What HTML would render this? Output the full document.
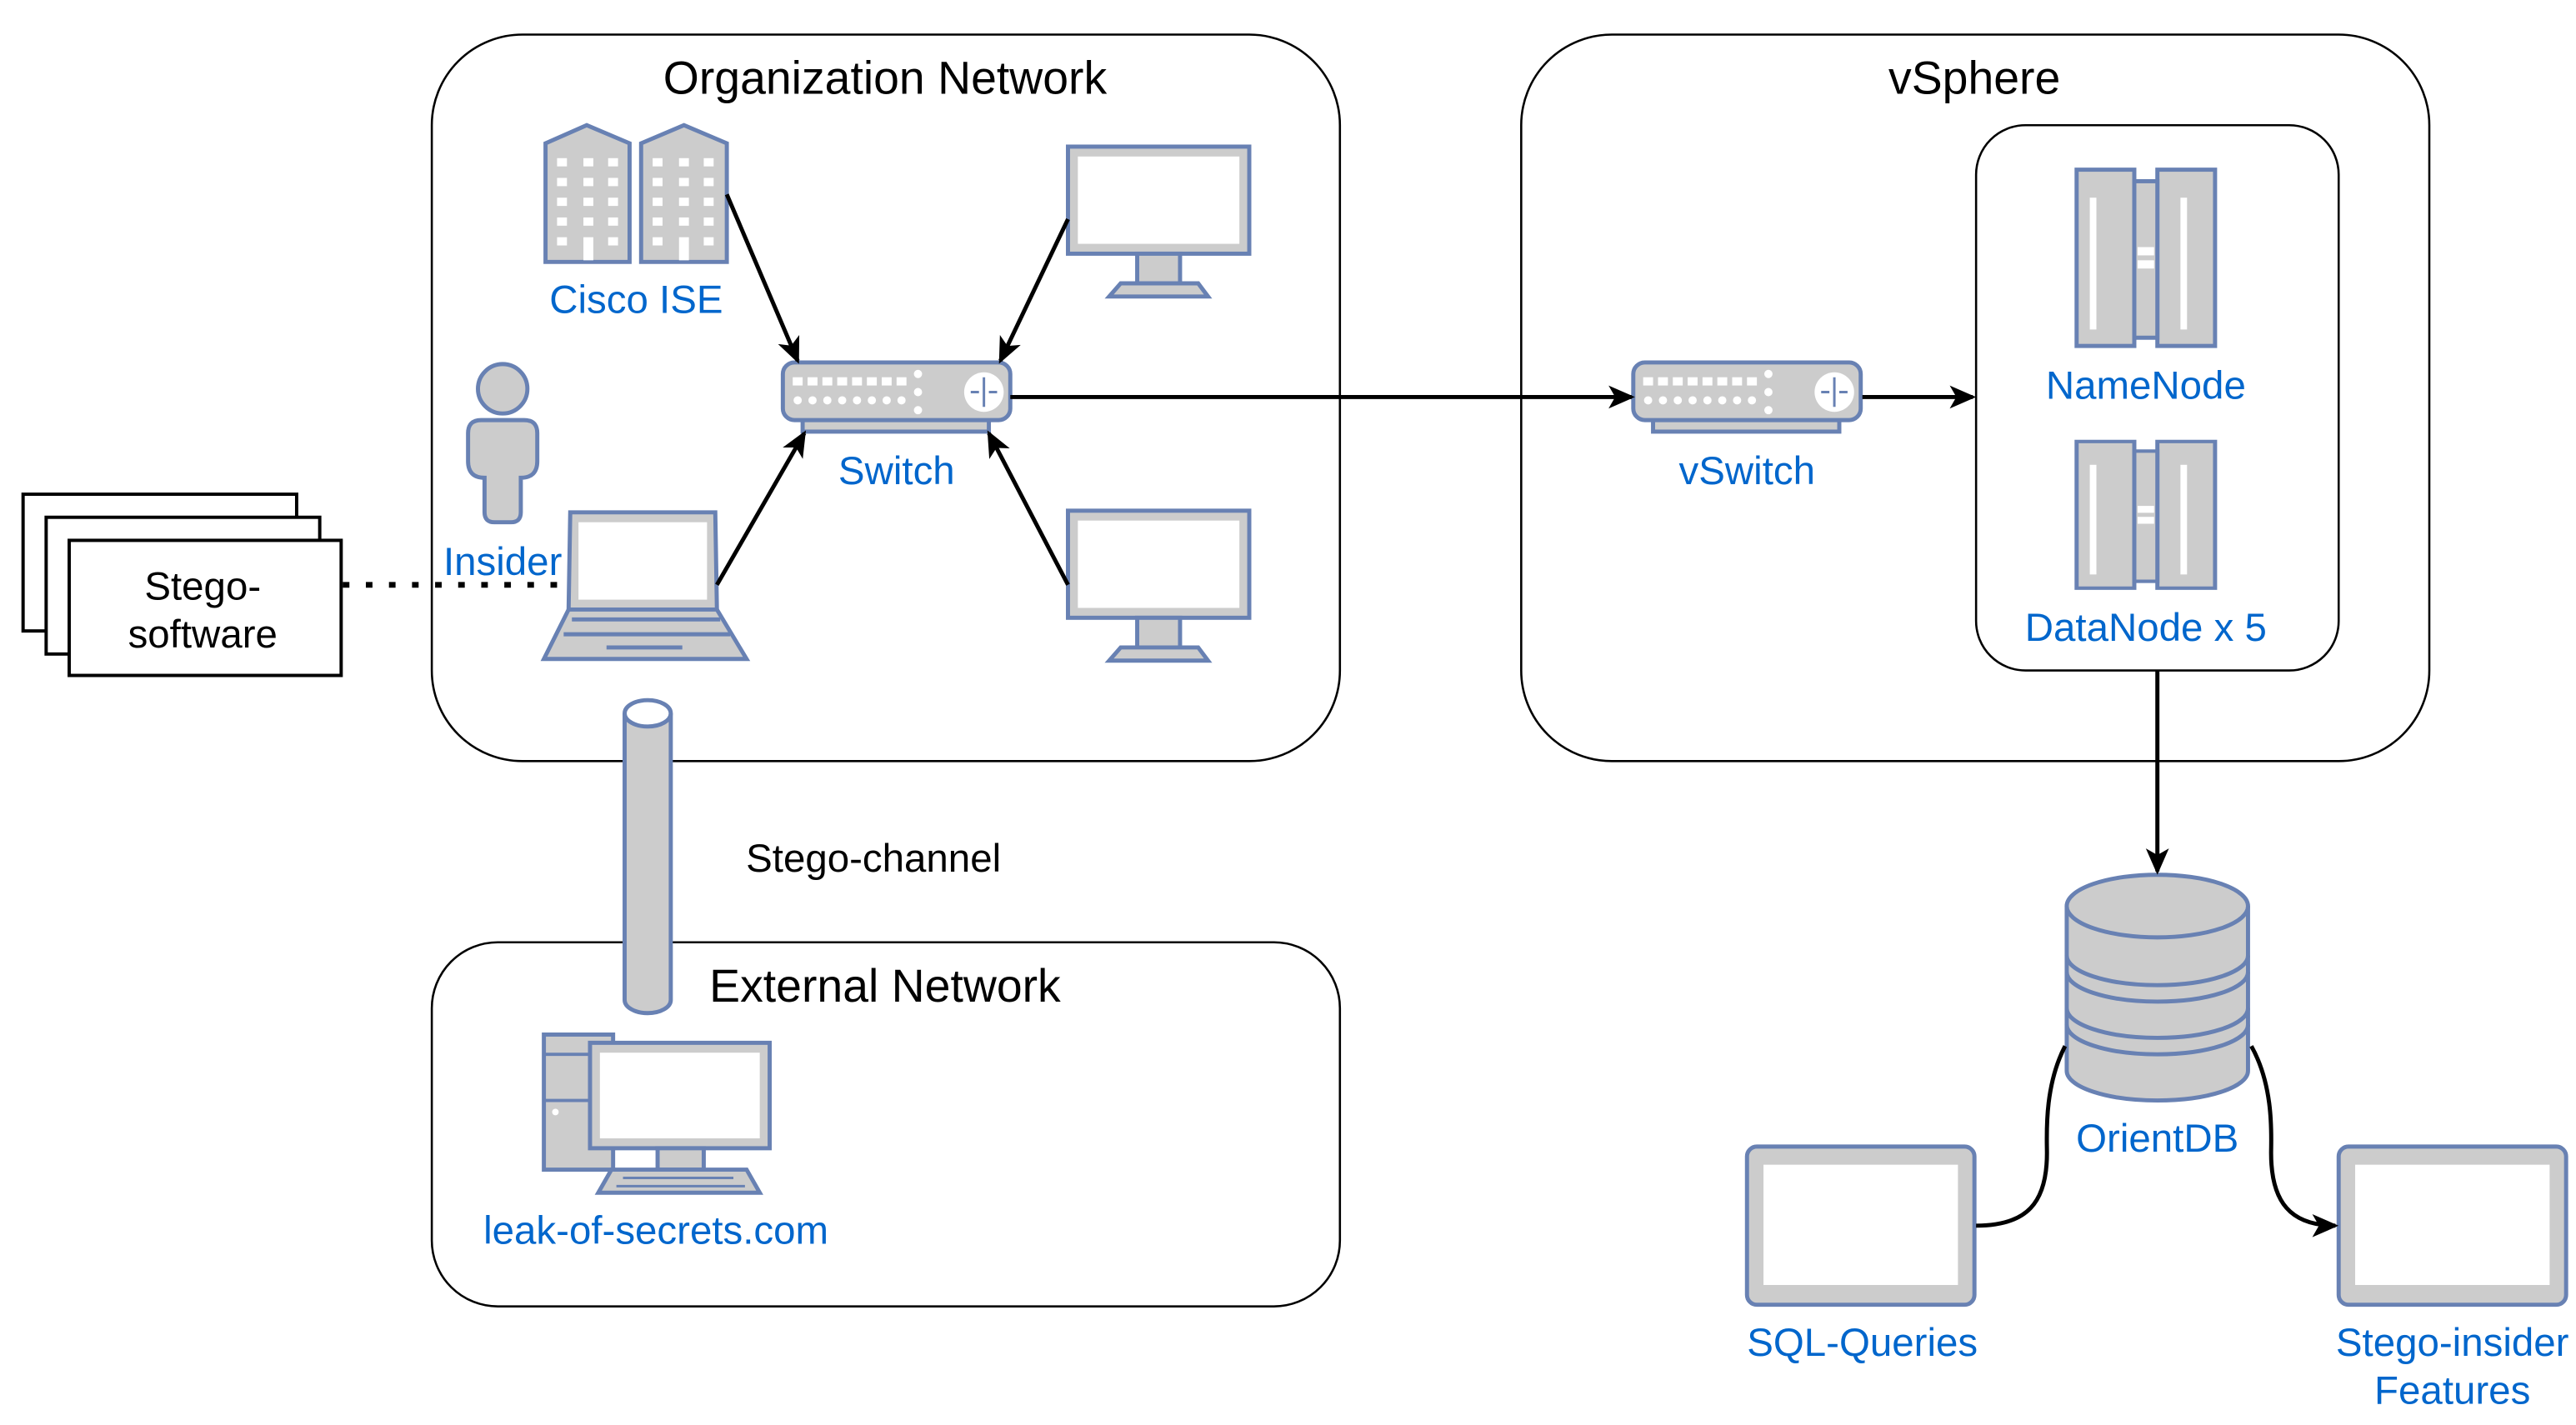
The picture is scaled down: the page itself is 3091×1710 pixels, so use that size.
<!DOCTYPE html>
<html><head><meta charset="utf-8"><style>
html,body{margin:0;padding:0;background:#fff}
svg{display:block}
text{font-family:"Liberation Sans",Arial,sans-serif}
.b{fill:#0066cc;font-size:24px;text-anchor:middle}
.k{fill:#000;font-size:24px;text-anchor:middle}
.ic{fill:#cccccc;stroke:#6881b3;stroke-width:2.5}
.w{fill:#fff}
.box{fill:none;stroke:#000;stroke-width:1.3}
.ar{stroke:#000;stroke-width:2.5;fill:none}
</style></head><body>
<svg width="3091" height="1710" viewBox="0 0 1563 865" preserveAspectRatio="none" xmlns="http://www.w3.org/2000/svg">
<defs>
<marker id="a" markerWidth="16" markerHeight="16" refX="14" refY="8" orient="auto" markerUnits="userSpaceOnUse" viewBox="0 0 16 16">
<path d="M0,1 L16,8 L0,15 L4,8 Z" fill="#000"/></marker>
</defs>
<!-- containers -->
<rect class="box" x="262" y="21" width="551" height="441" rx="55"/>
<rect class="box" x="923" y="21" width="551" height="441" rx="55"/>
<rect class="box" x="1199" y="76" width="220" height="331" rx="30"/>
<rect class="box" x="262" y="572" width="551" height="221" rx="40"/>
<text class="k" x="537" y="57" font-size="28" style="font-size:28px">Organization Network</text>
<text class="k" x="1198" y="57" style="font-size:28px">vSphere</text>
<text class="k" x="537" y="608" style="font-size:28px">External Network</text>

<!-- stego software stack -->
<rect x="14" y="300" width="166" height="83" fill="#fff" stroke="#000" stroke-width="2"/>
<rect x="28" y="314" width="166" height="83" fill="#fff" stroke="#000" stroke-width="2"/>
<rect x="42" y="328" width="165" height="82" fill="#fff" stroke="#000" stroke-width="2"/>
<text class="k" x="123" y="364">Stego-</text>
<text class="k" x="123" y="393">software</text>
<line x1="208" y1="355" x2="346" y2="355" stroke="#000" stroke-width="3.5" stroke-dasharray="4,10"/>

<!-- buildings -->
<g>
<path class="ic" d="M331,87 L356,76 L382,87 L382,159 L331,159 Z"/>
<path class="ic" d="M389,87 L415,76 L441,87 L441,159 L389,159 Z"/>
<g fill="#fff">
<rect x="338" y="96" width="6" height="5"/><rect x="354" y="96" width="6" height="5"/><rect x="369" y="96" width="6" height="5"/>
<rect x="338" y="108" width="6" height="5"/><rect x="354" y="108" width="6" height="5"/><rect x="369" y="108" width="6" height="5"/>
<rect x="338" y="120" width="6" height="5"/><rect x="354" y="120" width="6" height="5"/><rect x="369" y="120" width="6" height="5"/>
<rect x="338" y="132" width="6" height="5"/><rect x="354" y="132" width="6" height="5"/><rect x="369" y="132" width="6" height="5"/>
<rect x="338" y="144" width="6" height="5"/><rect x="354" y="144" width="6" height="14"/><rect x="369" y="144" width="6" height="5"/>
<rect x="396" y="96" width="6" height="5"/><rect x="412" y="96" width="6" height="5"/><rect x="427" y="96" width="6" height="5"/>
<rect x="396" y="108" width="6" height="5"/><rect x="412" y="108" width="6" height="5"/><rect x="427" y="108" width="6" height="5"/>
<rect x="396" y="120" width="6" height="5"/><rect x="412" y="120" width="6" height="5"/><rect x="427" y="120" width="6" height="5"/>
<rect x="396" y="132" width="6" height="5"/><rect x="412" y="132" width="6" height="5"/><rect x="427" y="132" width="6" height="5"/>
<rect x="396" y="144" width="6" height="5"/><rect x="412" y="144" width="6" height="14"/><rect x="427" y="144" width="6" height="5"/>
</g></g>
<text class="b" x="386" y="190">Cisco ISE</text>

<!-- monitors -->
<g id="mon">
<rect class="ic" x="648" y="89" width="110" height="65"/>
<rect class="w" x="654" y="95" width="98" height="53"/>
<rect class="ic" x="690" y="154" width="26" height="19"/>
<path class="ic" d="M680,172 L727,172 L733,180 L673,180 Z"/>
</g>
<use href="#mon" y="221"/>

<!-- switch -->
<g id="sw">
<rect class="ic" x="487" y="252" width="113" height="10"/>
<rect class="ic" x="475" y="220" width="138" height="35" rx="7"/>
<g fill="#fff">
<rect x="481" y="229" width="6" height="5"/><rect x="490" y="229" width="6" height="5"/><rect x="499" y="229" width="6" height="5"/><rect x="508" y="229" width="6" height="5"/><rect x="517" y="229" width="6" height="5"/><rect x="526" y="229" width="6" height="5"/><rect x="535" y="229" width="6" height="5"/><rect x="544" y="229" width="6" height="5"/>
<circle cx="484" cy="243" r="2.5"/><circle cx="493" cy="243" r="2.5"/><circle cx="502" cy="243" r="2.5"/><circle cx="511" cy="243" r="2.5"/><circle cx="520" cy="243" r="2.5"/><circle cx="529" cy="243" r="2.5"/><circle cx="538" cy="243" r="2.5"/><circle cx="547" cy="243" r="2.5"/>
<circle cx="557" cy="227" r="2.5"/><circle cx="557" cy="238" r="2.5"/><circle cx="557" cy="249" r="2.5"/>
<circle cx="597" cy="238" r="12"/>
</g>
<path d="M597,229 V247 M589,238 H594 M605,238 H600" stroke="#6881b3" stroke-width="1.5"/>
</g>
<text class="b" x="544" y="294">Switch</text>
<use href="#sw" x="516"/>
<text class="b" x="1060" y="294">vSwitch</text>

<!-- person -->
<circle class="ic" cx="305" cy="236" r="15"/>
<path class="ic" d="M292,255 H318 Q326,255 326,263 V280 Q326,290 316,290 V311 Q316,317 310,317 H300 Q294,317 294,311 V290 Q284,290 284,280 V263 Q284,255 292,255 Z"/>
<text class="b" x="305" y="349">Insider</text>

<!-- laptop -->
<path class="ic" d="M346,311 H434 L435,370 H345 Z"/>
<rect class="w" x="351" y="317" width="78" height="47"/>
<path class="ic" d="M345,370 H435 L453,400 H330 Z"/>
<path d="M375,380 H465 M370,389 H471 M396,397 H442" stroke="#6881b3" stroke-width="2.5" transform="translate(-28,-4)"/>

<!-- pipe -->
<path class="ic" d="M379,433 V607 A14,8 0 0 0 407,607 V433"/>
<ellipse class="ic" cx="393" cy="433" rx="14" ry="8" style="fill:#fff"/>
<text class="k" x="530" y="529">Stego-channel</text>

<!-- desktop -->
<rect class="ic" x="330" y="628" width="42" height="82"/>
<line x1="330" y1="640" x2="358" y2="640" stroke="#6881b3" stroke-width="2"/>
<line x1="330" y1="668" x2="358" y2="668" stroke="#6881b3" stroke-width="2"/>
<circle cx="337" cy="675" r="2" fill="#fff"/>
<rect class="ic" x="358" y="633" width="109" height="64"/>
<rect class="w" x="364" y="639" width="97" height="52"/>
<rect class="ic" x="399" y="697" width="28" height="13"/>
<path class="ic" d="M371,710 H453 L461,724 H363 Z"/>
<path d="M378,715 H445 M374,720 H452" stroke="#6881b3" stroke-width="1.5"/>
<text class="b" x="398" y="755">leak-of-secrets.com</text>

<!-- servers -->
<g id="srv">
<rect class="ic" x="1260" y="103" width="35" height="107"/>
<rect class="ic" x="1309" y="103" width="35" height="107"/>
<rect class="ic" x="1295" y="110" width="14" height="95"/>
<rect x="1268" y="120" width="4" height="80" fill="#fff"/>
<rect x="1323" y="120" width="4" height="80" fill="#fff"/>
<rect x="1297" y="150" width="10" height="5" fill="#fff"/><rect x="1297" y="158" width="10" height="5" fill="#fff"/>
</g>
<text class="b" x="1302" y="242">NameNode</text>
<g transform="translate(0,268) scale(1,0.832) translate(0,-103)"><use href="#srv"/></g>
<text class="b" x="1302" y="389">DataNode x 5</text>

<!-- DB -->
<path class="ic" d="M1254,550 V650 A55,18 0 0 0 1364,650 V550"/>
<ellipse class="ic" cx="1309" cy="550" rx="55" ry="19"/>
<path d="M1254,580 A55,18 0 0 0 1364,580 M1254,590 A55,18 0 0 0 1364,590 M1254,612 A55,18 0 0 0 1364,612 M1254,622 A55,18 0 0 0 1364,622" class="ic" style="fill:none"/>
<text class="b" x="1309" y="699">OrientDB</text>

<!-- tablets -->
<g id="tab">
<rect class="ic" x="1060" y="696" width="138" height="96" rx="6"/>
<rect class="w" x="1070" y="707" width="118" height="73"/>
</g>
<use href="#tab" x="359"/>
<text class="b" x="1130" y="823">SQL-Queries</text>
<text class="b" x="1488" y="823">Stego-insider</text>
<text class="b" x="1488" y="852">Features</text>

<!-- arrows -->
<line class="ar" x1="441" y1="118" x2="484" y2="219" marker-end="url(#a)"/>
<line class="ar" x1="648" y1="133" x2="607" y2="219" marker-end="url(#a)"/>
<line class="ar" x1="435" y1="355" x2="488" y2="263" marker-end="url(#a)"/>
<line class="ar" x1="648" y1="355" x2="600" y2="263" marker-end="url(#a)"/>
<line class="ar" x1="613" y1="241" x2="990" y2="241" marker-end="url(#a)"/>
<line class="ar" x1="1130" y1="241" x2="1197" y2="241" marker-end="url(#a)"/>
<line class="ar" x1="1309" y1="407" x2="1309" y2="529" marker-end="url(#a)"/>
<path class="ar" d="M1253,635 C1240,660 1242,690 1242,700 C1242,730 1230,744 1199,744"/>
<path class="ar" d="M1366,635 C1380,660 1378,690 1378,700 C1378,730 1390,744 1417,744" marker-end="url(#a)"/>
</svg>
</body></html>
